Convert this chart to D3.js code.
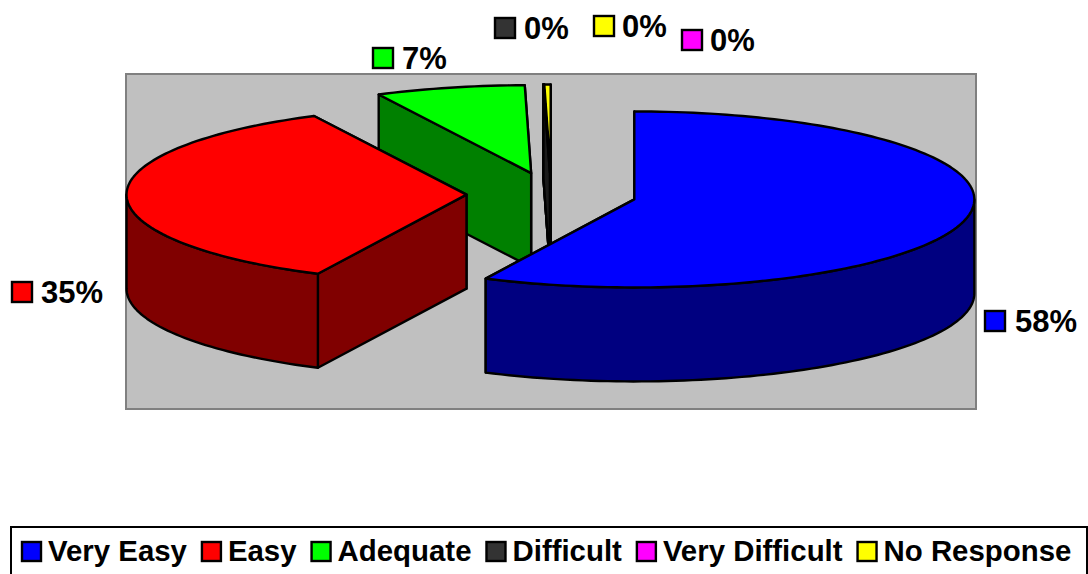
<!DOCTYPE html>
<html lang="en">
    <head>
        <meta charset="utf-8">
        <title>Exploded 3D pie</title>
        <script src="https://cdn.jsdelivr.net/npm/d3@7"></script>
        <style>
            html, body { margin: 0; padding: 0; background: #fff; overflow: hidden; }
            svg { display: block; }
            text { font-family: "Liberation Sans", Arial, sans-serif; font-weight: bold; fill: #000; }
        </style>
    </head>
    <body>
        <script>
            // data
            var categories = ["Very Easy", "Easy", "Adequate", "Difficult", "Very Difficult", "No Response"];
            var values = [57.2, 35.4, 7.1, 0, 0, 0.3];
            var valueLabels = ["58%", "35%", "7%", "0%", "0%", "0%"];

            // colours
            var topColors = ["#0000ff", "#ff0000", "#00ff00", "#333333", "#ff00ff", "#ffff00"];
            var wallColors = ["#000080", "#800000", "#008000", "#1a1a1a", "#800080", "#808000"];

            // layout
            var w = 1088, h = 574;
            var cx = 551.5, cy = 194.5, rx = 340, ry = 88, depth = 94, explode = 0.25;
            var lineW = 2.4;
            // marker x, baseline y, text x
            var labelPos = [[985, 332, 1015], [12, 303, 41], [373, 69, 402], [495, 39, 524], [682, 51, 710], [594, 37, 622]];

            var svg = d3.select("body").append("svg").attr("width", w).attr("height", h);

            // plot area
            svg.append("rect")
               .attr("x", 126).attr("y", 74)
               .attr("width", 850).attr("height", 335)
               .attr("fill", "#c0c0c0")
               .attr("stroke", "#808080")
               .attr("stroke-width", 2);

            // unit circle -> ellipse on screen
            var xScale = d3.scaleLinear().domain([-1, 1]).range([cx - rx, cx + rx]);
            var yScale = d3.scaleLinear().domain([-1, 1]).range([cy - ry, cy + ry]);
            var line = d3.line().x(function(d){return d[0];}).y(function(d){return d[1];});

            var slices = d3.pie().sort(null)(values);

            // point on a slice, a = angle, r = 0 at apex and 1 on the rim, drop = 0 top or 1 bottom
            function pt(s, a, r, drop) {
                var mid = (s.startAngle + s.endAngle) / 2;
                var ux = r * Math.sin(a) + explode * Math.sin(mid);
                var uy = -r * Math.cos(a) - explode * Math.cos(mid);
                return [xScale(ux), yScale(uy) + drop * depth];
            }
            function rim(s, a0, a1, drop) {
                var n = Math.max(2, Math.ceil(Math.abs(a1 - a0) * 40));
                return d3.range(n + 1).map(function(i){
                    return pt(s, a0 + (a1 - a0) * i / n, 1, drop);
                });
            }
            function cutWall(s, a) {
                return [pt(s, a, 0, 0), pt(s, a, 1, 0), pt(s, a, 1, 1), pt(s, a, 0, 1)];
            }

            function drawPoly(pts, fill) {
                svg.append("path")
                   .attr("d", line(pts) + "Z")
                   .attr("fill", fill)
                   .attr("stroke", "#000")
                   .attr("stroke-width", lineW)
                   .attr("stroke-linejoin", "round");
            }

            // back to front
            var order = [5, 4, 3, 2, 1, 0];
            order.forEach(function(i){
                var s = slices[i];
                // cut faces, the far one first
                drawPoly(cutWall(s, s.endAngle), wallColors[i]);
                drawPoly(cutWall(s, s.startAngle), wallColors[i]);
                // outer wall, only the front half of the rim shows
                var a0 = Math.max(s.startAngle, Math.PI / 2);
                var a1 = Math.min(s.endAngle, Math.PI * 1.5);
                if (a1 > a0) {
                    drawPoly(rim(s, a0, a1, 0).concat(rim(s, a1, a0, 1)), wallColors[i]);
                }
                // top face
                drawPoly([pt(s, 0, 0, 0)].concat(rim(s, s.startAngle, s.endAngle, 0)), topColors[i]);
            });

            // data labels
            valueLabels.forEach(function(d, i){
                var p = labelPos[i];
                svg.append("rect")
                   .attr("x", p[0]).attr("y", p[1] - 21)
                   .attr("width", 20).attr("height", 20)
                   .attr("fill", topColors[i])
                   .attr("stroke", "#000")
                   .attr("stroke-width", lineW);
                svg.append("text")
                   .attr("x", p[2]).attr("y", p[1])
                   .attr("font-size", "31px")
                   .text(d);
            });

            // legend
            svg.append("rect")
               .attr("x", 11).attr("y", 527)
               .attr("width", 1076).attr("height", 60)
               .attr("fill", "#fff")
               .attr("stroke", "#000")
               .attr("stroke-width", 2);
            var legendX = 22;
            categories.forEach(function(d, i){
                svg.append("rect")
                   .attr("x", legendX).attr("y", 542)
                   .attr("width", 19).attr("height", 19)
                   .attr("fill", topColors[i])
                   .attr("stroke", "#000")
                   .attr("stroke-width", lineW);
                var t = svg.append("text")
                   .attr("x", legendX + 26).attr("y", 561)
                   .attr("font-size", "29.4px")
                   .text(d);
                legendX += 26 + t.node().getComputedTextLength() + 15;
            });
        </script>
    </body>
</html>
